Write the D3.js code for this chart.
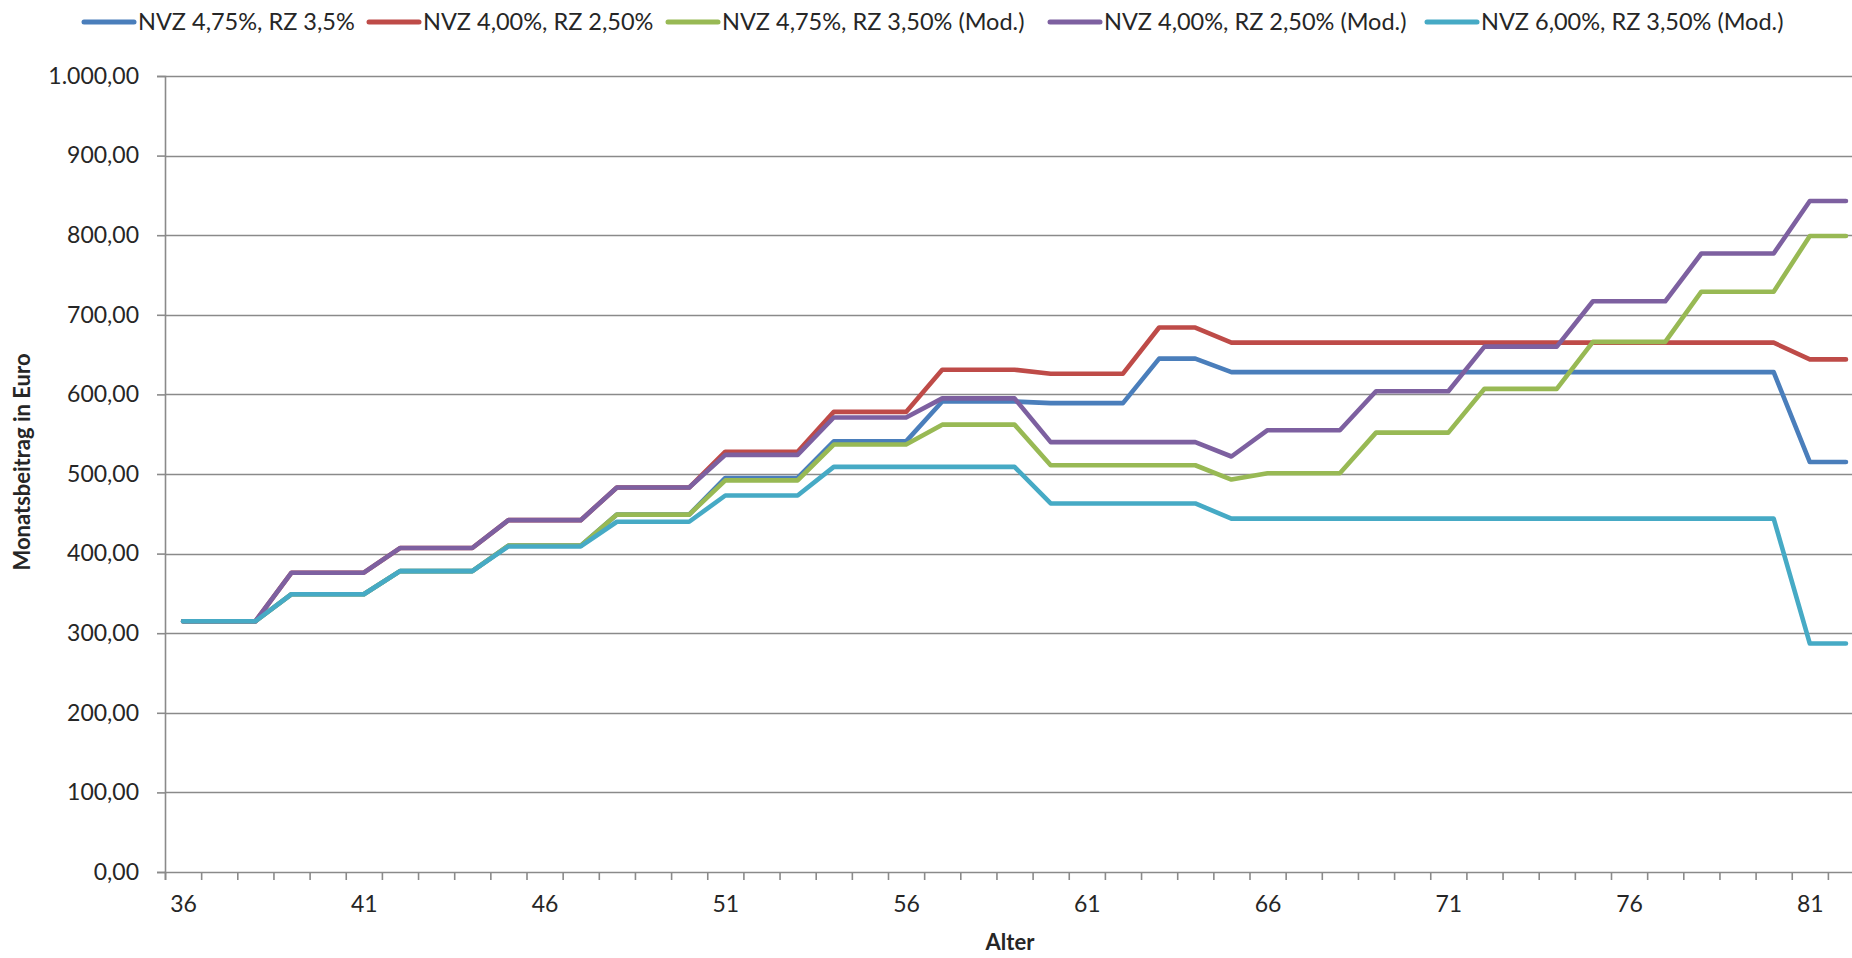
<!DOCTYPE html>
<html>
<head>
<meta charset="utf-8">
<script src="https://cdn.jsdelivr.net/npm/d3@7/dist/d3.min.js"></script>
<style>
  html, body { margin: 0; padding: 0; background: #fff; }
  svg { display: block; }
  text { font-family: Lato, "Open Sans", sans-serif; fill: #262626; }
</style>
</head>
<body>
<svg id="chart" width="1852" height="958"></svg>
<script>
// ---- data ----
const ages = [36,37,38,39,40,41,42,43,44,45,46,47,48,49,50,51,52,53,54,55,56,57,58,59,60,61,62,63,64,65,66,67,68,69,70,71,72,73,74,75,76,77,78,79,80,81,82];

const seriesNames = [
  "NVZ 4,75%, RZ 3,5%",
  "NVZ 4,00%, RZ 2,50%",
  "NVZ 4,75%, RZ 3,50% (Mod.)",
  "NVZ 4,00%, RZ 2,50% (Mod.)",
  "NVZ 6,00%, RZ 3,50% (Mod.)"
];
const seriesColors = ["#4A7EBB", "#BE4B48", "#98B954", "#7D60A0", "#46AAC5"];

const nvz475rz35 = [315,315,315,349,349,349,378,378,378,410,410,410,449,449,449,495,495,495,541,541,541,591,591,591,589,589,589,645,645,628,628,628,628,628,628,628,628,628,628,628,628,628,628,628,628,515,515];
const nvz400rz250 = [315,315,315,376,376,376,407,407,407,442,442,442,483,483,483,528,528,528,578,578,578,631,631,631,626,626,626,684,684,665,665,665,665,665,665,665,665,665,665,665,665,665,665,665,665,644,644];
const nvz475rz350mod = [315,315,315,349,349,349,378,378,378,410,410,410,449,449,449,492,492,492,537,537,537,562,562,562,511,511,511,511,511,493,501,501,501,552,552,552,607,607,607,666,666,666,729,729,729,799,799];
const nvz400rz250mod = [315,315,315,376,376,376,407,407,407,442,442,442,483,483,483,524,524,524,571,571,571,595,595,595,540,540,540,540,540,522,555,555,555,604,604,604,660,660,660,717,717,717,777,777,777,843,843];
const nvz600rz350mod = [315,315,315,349,349,349,378,378,378,409,409,409,440,440,440,473,473,473,509,509,509,509,509,509,463,463,463,463,463,444,444,444,444,444,444,444,444,444,444,444,444,444,444,444,444,287,287];

const seriesValues = [nvz475rz35, nvz400rz250, nvz475rz350mod, nvz400rz250mod, nvz600rz350mod];

const yTicks = [0,100,200,300,400,500,600,700,800,900,1000];
const xLabelAges = [36,41,46,51,56,61,66,71,76,81];

// ---- layout ----
const svg = d3.select("#chart");
const plotLeft = 165, catW = 36.15;
const plotRight = plotLeft + ages.length * catW;
const yTop = 76, yBottom = 872;

const x = d3.scaleLinear().domain([ages[0] - 0.5, ages[ages.length - 1] + 0.5]).range([plotLeft, plotRight]);
const y = d3.scaleLinear().domain([0, 1000]).range([yBottom, yTop]);

const de = d3.formatLocale({decimal: ",", thousands: ".", grouping: [3], currency: ["", "€"]});
const fmt = de.format(",.2f");

const gridColor = "#8a8a8a";

// gridlines
svg.append("g").selectAll("line").data(yTicks.filter(d => d > 0)).join("line")
  .attr("x1", plotLeft).attr("x2", plotRight)
  .attr("y1", d => Math.round(y(d)) + 0.5).attr("y2", d => Math.round(y(d)) + 0.5)
  .attr("stroke", gridColor).attr("stroke-width", 1.6);

// y axis
const yAxis = svg.append("g").attr("transform", `translate(${plotLeft},0)`)
  .call(d3.axisLeft(y).tickValues(yTicks).tickSize(8).tickPadding(18).tickFormat(fmt));
yAxis.select(".domain").attr("stroke", gridColor).attr("stroke-width", 1.6);
yAxis.selectAll(".tick line").attr("stroke", gridColor).attr("stroke-width", 1.6);
yAxis.selectAll(".tick text").attr("font-size", 23).attr("font-family", "Lato").attr("fill", "#262626");

// x axis (ticks between categories)
const boundaries = ages.map(a => a - 0.5).concat([ages[ages.length - 1] + 0.5]);
const xAxis = svg.append("g").attr("transform", `translate(0,${yBottom})`)
  .call(d3.axisBottom(x).tickValues(boundaries).tickSize(8).tickFormat(""));
xAxis.select(".domain").attr("stroke", gridColor).attr("stroke-width", 1.6);
xAxis.selectAll(".tick line").attr("stroke", gridColor).attr("stroke-width", 1.6);

const xLab = svg.append("g").attr("transform", `translate(0,${yBottom})`)
  .call(d3.axisBottom(x).tickValues(xLabelAges).tickSize(0).tickPadding(24).tickFormat(d3.format("d")));
xLab.select(".domain").remove();
xLab.selectAll(".tick text").attr("font-size", 23).attr("font-family", "Lato").attr("fill", "#262626");

// lines
const line = d3.line().x((d, i) => x(ages[i])).y(d => y(d)).curve(d3.curveLinear);
svg.append("g").selectAll("path").data(seriesValues).join("path")
  .attr("d", d => line(d))
  .attr("fill", "none")
  .attr("stroke", (d, i) => seriesColors[i])
  .attr("stroke-width", 4.6)
  .attr("stroke-linejoin", "round")
  .attr("stroke-linecap", "round");

// axis titles
svg.append("text").attr("x", 1010).attr("y", 950).attr("text-anchor", "middle")
  .attr("font-size", 22).attr("font-weight", "bold").attr("fill", "#000").text("Alter");
svg.append("text").attr("transform", `translate(30,462) rotate(-90)`)
  .attr("text-anchor", "middle").attr("font-size", 22).attr("font-weight", "bold").attr("fill", "#000")
  .text("Monatsbeitrag in Euro");

// legend
const legendX = [82, 367, 666, 1048, 1425];
const legend = svg.append("g");
seriesNames.forEach((name, i) => {
  const g = legend.append("g").attr("transform", `translate(${legendX[i]},22)`);
  g.append("line").attr("x1", 2).attr("x2", 52).attr("y1", 0).attr("y2", 0)
    .attr("stroke", seriesColors[i]).attr("stroke-width", 5).attr("stroke-linecap", "round");
  g.append("text").attr("x", 56).attr("y", 0).attr("dy", "0.35em")
    .attr("font-size", 23.5).attr("fill", "#000").text(name);
});
</script>
</body>
</html>
